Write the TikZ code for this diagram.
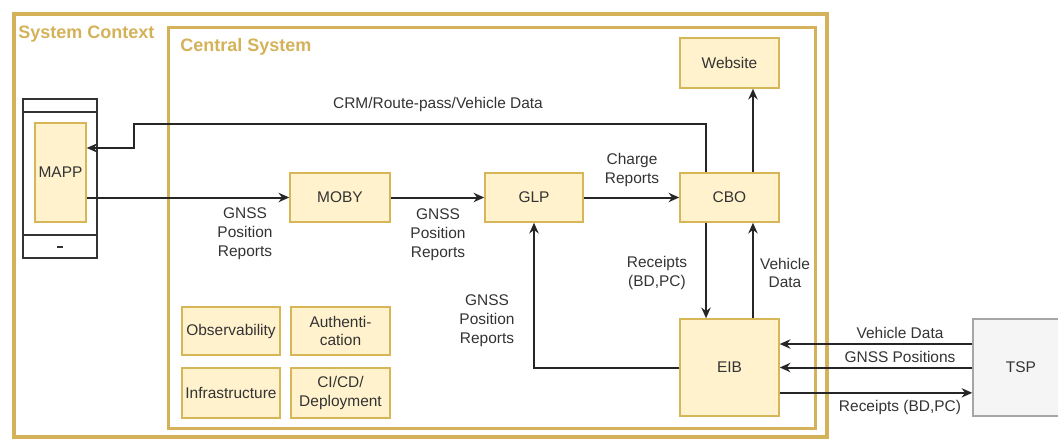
\documentclass[tikz,border=0pt]{standalone}
\usepackage{fontspec}
\setmainfont{Liberation Sans}
\usetikzlibrary{arrows.meta}
\definecolor{boxfill}{HTML}{FFF2CC}
\definecolor{boxline}{HTML}{D6B656}
\definecolor{ctxline}{HTML}{D4B25A}
\definecolor{txtgrey}{HTML}{333333}
\definecolor{tspfill}{HTML}{F5F5F5}
\definecolor{tspline}{HTML}{A6A6A6}
\begin{document}
\begin{tikzpicture}[x=0.75pt, y=-0.75pt, >=Stealth,
    box/.style={draw=boxline, fill=boxfill, line width=1.1pt, text=txtgrey, align=center, inner sep=0pt,
      font=\fontsize{11.6}{14.2}\selectfont},
    lbl/.style={text=txtgrey, align=center, inner sep=0pt, font=\fontsize{11.6}{14.2}\selectfont},
    title/.style={text=ctxline, anchor=west, inner sep=0pt, font=\bfseries\fontsize{13.5}{16}\selectfont},
    flow/.style={->, draw=black!85, line width=1.5pt, >={Stealth[length=8pt, width=7pt]}}]
    \useasboundingbox (0,0) rectangle (1058,439);
    \draw[ctxline, line width=3pt] (13.5,14) rectangle (827,436.5);
    \draw[ctxline, line width=2.25pt] (168,27) rectangle (815,428);
    \node[title] (ctxtitle) at (18,34) {System Context};
    \node[title] (centraltitle) at (180,47) {Central System};

    \draw[txtgrey, line width=1.3pt] (23,99) rectangle (97,258);
    \draw[txtgrey, line width=1.3pt] (23,112) -- (97,112);
    \draw[txtgrey, line width=1.3pt] (23,235) -- (97,235);
    \draw[txtgrey, line width=1.6pt] (57,247) -- (63,247);

    \node[box, minimum width=38.25pt, minimum height=74.25pt] (mapp) at (60.5,172.5) {MAPP};
    \node[box, minimum width=75pt, minimum height=36.75pt] (moby) at (340,197.5) {MOBY};
    \node[box, minimum width=73.5pt, minimum height=36.75pt] (glp) at (534,197.5) {GLP};
    \node[box, minimum width=74.25pt, minimum height=36.75pt] (cbo) at (729.5,197.5) {CBO};
    \node[box, minimum width=74.25pt, minimum height=37.5pt] (website) at (729.5,63) {Website};
    \node[box, minimum width=74.25pt, minimum height=72.75pt] (eib) at (729.5,367.5) {EIB};
    \node[box, draw=tspline, fill=tspfill, minimum width=72pt, minimum height=72.75pt] (tsp) at (1021,367.5) {TSP};

    \node[box, minimum width=73.5pt, minimum height=36pt] (observ) at (231,331) {Observability};
    \node[box, minimum width=74.25pt, minimum height=36pt] (authn) at (340.5,331) {Authenti-\\cation};
    \node[box, minimum width=73.5pt, minimum height=37.5pt] (infra) at (231,393) {Infrastructure};
    \node[box, minimum width=74.25pt, minimum height=37.5pt] (cicd) at (340.5,393) {CI/CD/\\Deployment};

    \coordinate (crmbend) at (134,124);
    \draw[flow] ([xshift=-17.6pt]cbo.north) |- (crmbend) |- ([yshift=18.4pt]mapp.east);
    \draw[flow] (mapp.east |- moby.west) -- (moby.west);
    \draw[flow] (moby.east) -- (glp.west);
    \draw[flow] (glp.east) -- (cbo.west);
    \draw[flow] ([xshift=17.6pt]cbo.north) -- ([xshift=17.6pt]website.south);
    \draw[flow] ([xshift=-17.6pt]cbo.south) -- ([xshift=-17.6pt]eib.north);
    \draw[flow] ([xshift=17.6pt]eib.north) -- ([xshift=17.6pt]cbo.south);
    \draw[flow] (eib.west) -| (glp.south);
    \draw[flow] ([yshift=17.6pt]tsp.west) -- ([yshift=17.6pt]eib.east);
    \draw[flow] (tsp.west) -- (eib.east);
    \draw[flow] ([yshift=-19pt]eib.east) -- ([yshift=-19pt]tsp.west);

    \node[lbl] (crmlbl) at (438,105) {CRM/Route-pass/Vehicle Data};
    \node[lbl] (gnss1lbl) at (245,234) {GNSS\\Position\\Reports};
    \node[lbl] (gnss2lbl) at (438,235) {GNSS\\Position\\Reports};
    \node[lbl] (chargelbl) at (632,170) {Charge\\Reports};
    \node[lbl] (rcpt1lbl) at (657,273) {Receipts\\(BD,PC)};
    \node[lbl] (vehlbl) at (785,273) {Vehicle\\Data};
    \node[lbl] (gnss3lbl) at (487,321) {GNSS\\Position\\Reports};
    \node[lbl] (vehtsplbl) at (900,333) {Vehicle Data};
    \node[lbl] (gnsstsplbl) at (900,357) {GNSS Positions};
    \node[lbl] (rcpttsplbl) at (900,407) {Receipts (BD,PC)};
\end{tikzpicture}
\end{document}
